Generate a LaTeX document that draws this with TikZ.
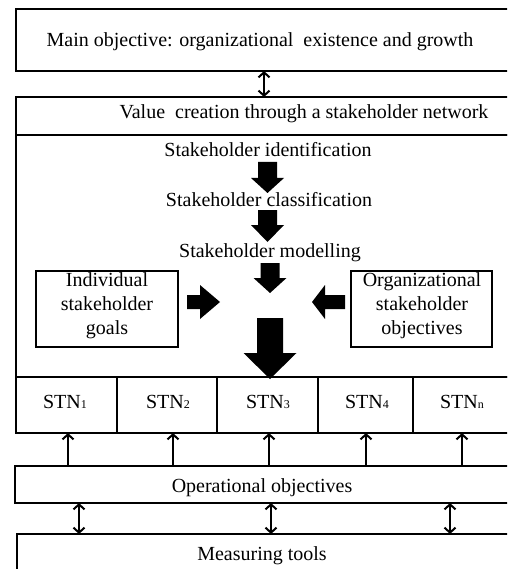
\documentclass[tikz,border=0pt]{standalone}
\usepackage{fontspec}
\setmainfont{Liberation Serif}
\usetikzlibrary{arrows.meta}
% filled block arrow pointing down: centre x, top, head start, tip, shaft half width, head half width
\newcommand\blockdown[6]{%
  \fill (#1-#5,#2) -- (#1+#5,#2) -- (#1+#5,#3) -- (#1+#6,#3) -- (#1,#4)
        -- (#1-#6,#3) -- (#1-#5,#3) -- cycle;}
% filled block arrow pointing sideways: centre y, tail, head start, tip, shaft half height, head half height
\newcommand\blockside[6]{%
  \fill (#2,#1-#5) -- (#3,#1-#5) -- (#3,#1-#6) -- (#4,#1) -- (#3,#1+#6)
        -- (#3,#1+#5) -- (#2,#1+#5) -- cycle;}
\newcommand\sub[1]{{\fontsize{12}{12}\selectfont #1}}
\begin{document}
\begin{tikzpicture}[x=1pt,y=-1pt,
  frame/.style={draw, line width=2pt, inner sep=0pt, outer sep=0pt, anchor=north west},
  thinframe/.style={frame, line width=1.5pt},
  lbl/.style={anchor=base, inner sep=0pt, font=\fontsize{20}{24}\selectfont, align=center},
  tip/.style={line width=2pt, arrows={-Straight Barb[length=5pt,width=11pt]}},
  dtip/.style={line width=2pt, arrows={Straight Barb[length=5pt,width=11pt]-Straight Barb[length=5pt,width=11pt]}}]
\clip (0,0) rectangle (507,569);
\fill[white] (0,0) rectangle (507,569);

% boxes
\node[frame, minimum width=514pt, minimum height=61.5pt] (main) at (16,9.5) {};
\node[frame, minimum width=514pt, minimum height=38pt] (value) at (16,97) {};
\node[frame, minimum width=514pt, minimum height=242pt] (inner) at (16,135) {};
\node[frame, minimum width=101pt, minimum height=56pt] (stn1) at (16,377) {};
\node[frame, minimum width=100pt, minimum height=56pt] (stn2) at (117,377) {};
\node[frame, minimum width=101pt, minimum height=56pt] (stn3) at (217,377) {};
\node[frame, minimum width=95pt, minimum height=56pt] (stn4) at (318,377) {};
\node[frame, minimum width=117pt, minimum height=56pt] (stnn) at (413,377) {};
\node[frame, minimum width=515pt, minimum height=37pt] (oper) at (15,466) {};
\node[frame, minimum width=513pt, minimum height=60pt] (meas) at (17,534) {};
\node[thinframe, minimum width=142pt, minimum height=76pt] (indiv) at (36,271) {};
\node[thinframe, minimum width=141pt, minimum height=76pt] (org) at (351,271) {};

% labels (multi-line labels sit on the baseline of their last line)
\node[lbl] (tmain) at (260,46.7) {Main objective: organizational\ \ existence and growth};
\node[lbl] (tvalue) at (304,119) {Value\ \ creation through a stakeholder network};
\node[lbl] (tid) at (268,156.7) {Stakeholder identification};
\node[lbl] (tcl) at (269,206.7) {Stakeholder classification};
\node[lbl] (tmod) at (270,257.7) {Stakeholder modelling};
\node[lbl] (tind) at (107,334) {Individual\\stakeholder\\goals};
\node[lbl] (torg) at (422,334) {Organizational\\stakeholder\\objectives};
\node[lbl] (t1) at (65,408) {STN\sub{1}};
\node[lbl] (t2) at (168,408) {STN\sub{2}};
\node[lbl] (t3) at (268,408) {STN\sub{3}};
\node[lbl] (t4) at (367,408) {STN\sub{4}};
\node[lbl] (tn) at (462,408) {STN\sub{n}};
\node[lbl] (toper) at (262,492.7) {Operational objectives};
\node[lbl] (tmeas) at (262,560) {Measuring tools};

% block arrows
\blockdown{267.5}{162}{178}{193}{9.5}{16.5}
\blockdown{267.5}{210}{225}{242}{9.5}{16.5}
\blockdown{270}{263}{278}{293}{9.5}{16.5}
\blockdown{270}{318}{353}{379}{13}{26.5}
\blockside{302}{187}{200}{220}{7}{17}
\blockside{302}{345}{325}{312}{7}{17}

% connectors
\coordinate (xa) at (264,0);
\draw[dtip] (xa |- main.south) -- (xa |- value.north);
\foreach \x/\s in {68/stn1,173/stn2,269/stn3,366/stn4,462/stnn}{
  \coordinate (u\s) at (\x,0);
  \draw[tip] (u\s |- oper.north) -- (u\s |- \s.south);
}
\foreach \x [count=\i] in {79,271,450}{
  \coordinate (d\i) at (\x,0);
  \draw[dtip] (d\i |- oper.south) -- (d\i |- meas.north);
}
\end{tikzpicture}
\end{document}
